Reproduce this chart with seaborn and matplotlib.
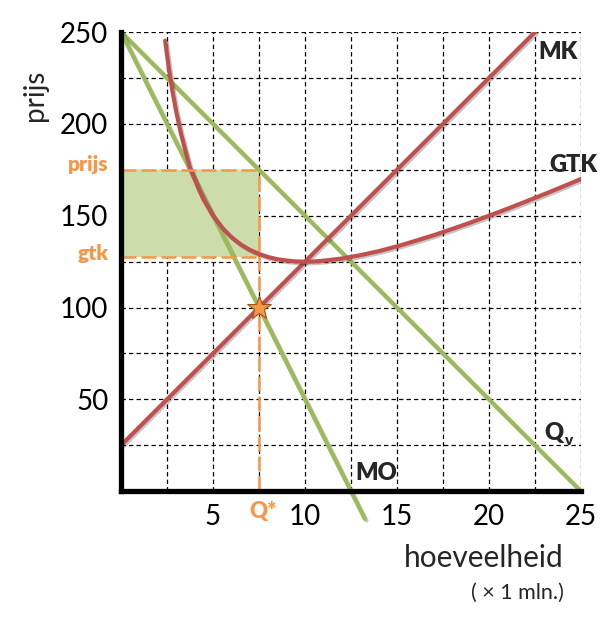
import numpy as np
import pandas as pd
import matplotlib
matplotlib.use("Agg")
import matplotlib.pyplot as plt
import matplotlib.patheffects as pe
import matplotlib.transforms as mtransforms
import seaborn as sns

# ---------------- data ----------------
q_ticks = [5, 10, 15, 20, 25]
p_ticks = [50, 100, 150, 200, 250]

qv_q = [0, 25]
qv_p = [250, 0]

mo_q = [0, 13.25]
mo_p = [250, -15]

mk_q = [0, 22.5]
mk_p = [25, 250]

gtk_q = [2.4, 2.6, 2.8, 3.0, 3.25, 3.5, 3.75, 4.0, 4.25, 4.5, 5.0, 5.5, 6.0,
         6.5, 7.0, 7.5, 8.0, 8.5, 9.0, 9.5, 10.0, 10.5, 11.0, 12.0, 13.0, 14.0,
         15.0, 16.0, 17.0, 18.0, 19.0, 20.0, 21.0, 22.0, 23.0, 24.0, 25.0]
gtk_p = [245.3, 230.3, 217.6, 206.7, 195.1, 185.4, 176.1, 170.0, 163.9, 158.6,
         150.0, 143.4, 138.3, 134.4, 131.4, 129.2, 127.5, 126.3, 125.6, 125.1,
         125.0, 125.1, 125.5, 126.7, 128.5, 130.7, 133.3, 136.3, 139.4, 142.8,
         146.3, 150.0, 153.8, 157.7, 161.7, 165.8, 170.0]

q_star = 7.5
p_star = 175
gtk_star = 127.5
mk_star = 100

# ---------------- style ----------------
green = "#9BBB59"
red = "#C0504D"
orange = "#F79646"
shade = "#CDDCAB"

sns.set_theme(style="white")
plt.rcParams['font.family'] = ['Lato', 'DejaVu Sans']

fig = plt.figure(figsize=(6.16, 6.24), dpi=100)
ax = fig.add_axes([0.1964, 0.2127, 0.7468, 0.7360])
ax.set_xlim(0, 25)
ax.set_ylim(0, 250)

# grid
ax.set_xticks(q_ticks)
ax.set_yticks(p_ticks)
ax.set_xticks(np.arange(2.5, 25.1, 2.5), minor=True)
ax.set_yticks(np.arange(25, 250.1, 25), minor=True)
ax.grid(which='both', color='black', linestyle=(0, (3.5, 2.5)), linewidth=0.9)
ax.tick_params(which='both', length=0)
ax.tick_params(axis='y', labelsize=20, pad=9)
ax.tick_params(axis='x', labelsize=20, pad=9)
for lbl in ax.get_xticklabels() + ax.get_yticklabels():
    lbl.set_color('black')
ax.set_axisbelow(True)

for s in ['top', 'right']:
    ax.spines[s].set_visible(False)
for s in ['left', 'bottom']:
    ax.spines[s].set_linewidth(3.8)
    ax.spines[s].set_color('black')
    ax.spines[s].set_zorder(6)

# shaded profit area
ax.fill_between([0, q_star], gtk_star, p_star, color=shade, lw=0, zorder=1)

shadow = [pe.SimpleLineShadow(offset=(1.2, -1.2), alpha=0.25), pe.Normal()]

# curves
sns.lineplot(x=qv_q, y=qv_p, ax=ax, color=green, lw=3, estimator=None,
             path_effects=shadow, zorder=3)
sns.lineplot(x=mo_q, y=mo_p, ax=ax, color=green, lw=3, estimator=None,
             path_effects=shadow, zorder=3, clip_on=False)
sns.lineplot(x=mk_q, y=mk_p, ax=ax, color=red, lw=3, estimator=None,
             path_effects=shadow, zorder=4)
sns.lineplot(x=gtk_q, y=gtk_p, ax=ax, color=red, lw=3, estimator=None,
             path_effects=shadow, zorder=4)

# orange dashed guides
ax.plot([0, q_star], [p_star, p_star], color=orange, lw=1.8,
        linestyle=(0, (6, 2)), zorder=5)
ax.plot([0, q_star], [gtk_star, gtk_star], color=orange, lw=1.8,
        linestyle=(0, (6, 2)), zorder=5)
ax.plot([q_star, q_star], [0, p_star], color=orange, lw=1.8,
        linestyle=(0, (6, 2)), zorder=5)

# optimum star
ax.plot([q_star], [mk_star], marker='*', ms=18, mfc=orange, mec='#9A5418',
        mew=0.8, zorder=8, linestyle='none')

# curve labels
bw = 'heavy'
ax.text(22.66, 239, "MK", fontsize=17, fontweight=bw, ha='left', va='center')
ax.text(23.3, 177.6, "GTK", fontsize=17, fontweight=bw, ha='left', va='center')
ax.text(22.99, 31.7, "Q", fontsize=17, fontweight=bw, ha='left', va='center')
ax.text(24.1, 27.5, "v", fontsize=11, fontweight=bw, ha='left', va='center')
ax.text(12.72, 10, "MO", fontsize=17, fontweight=bw, ha='left', va='center',
        zorder=7)

# orange labels
trans_x = mtransforms.blended_transform_factory(ax.transData, ax.transAxes)
ax.text(q_star + 0.2, -0.045, "Q*", transform=trans_x, color=orange, fontsize=16,
        fontweight=bw, ha='center', va='center')
fig.text(0.176, 0.737, "prijs", color=orange, fontsize=15, fontweight=bw,
         ha='right', va='center')
fig.text(0.176, 0.594, "gtk", color=orange, fontsize=15, fontweight=bw,
         ha='right', va='center')

# axis titles
fig.text(0.057, 0.848, "prijs", fontsize=20, rotation=90, ha='center', va='center')
fig.text(0.786, 0.106, "hoeveelheid", fontsize=21.5, ha='center', va='center')
fig.text(0.840, 0.0497, "( \u00d7 1 mln.)", fontsize=15.5, ha='center', va='center')

fig.savefig("out.png", dpi=100)
